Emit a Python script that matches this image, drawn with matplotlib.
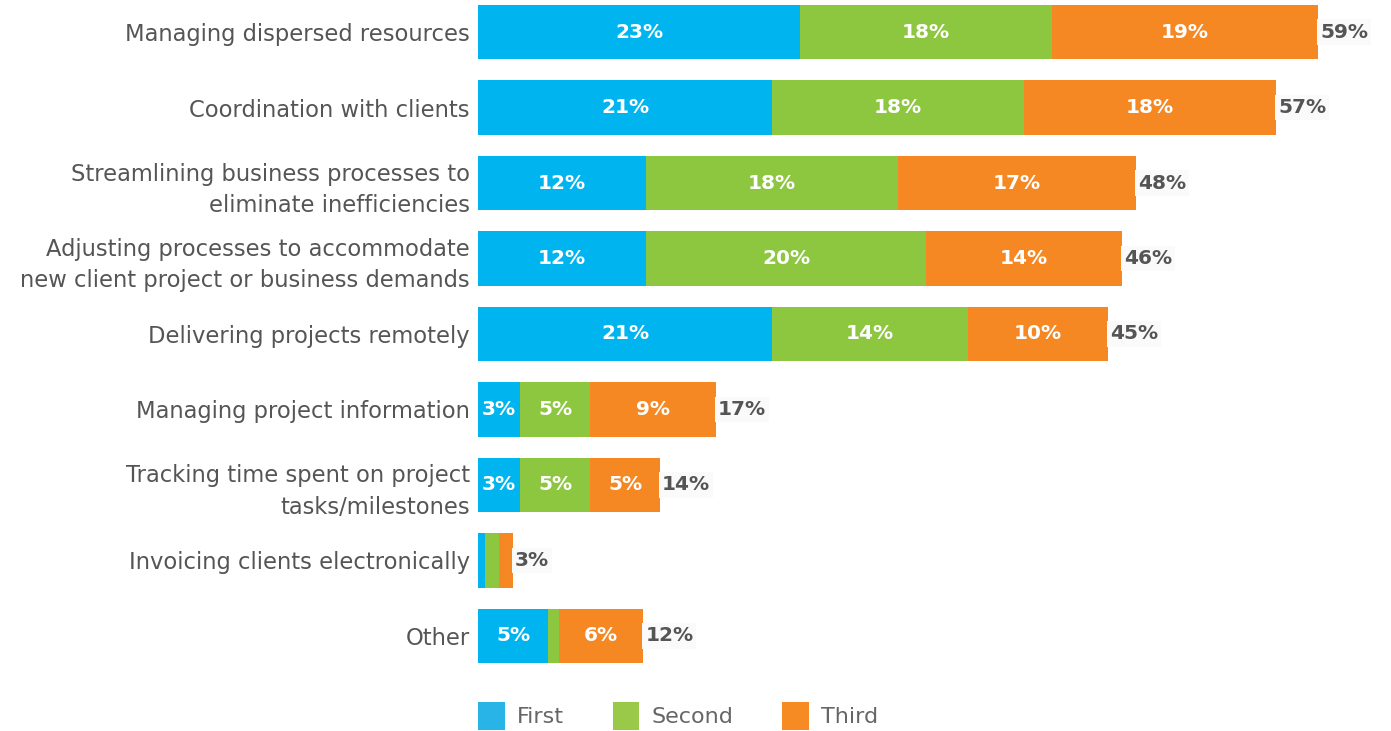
import matplotlib.pyplot as plt
from matplotlib.patches import Patch

# survey answers, ranked first / second / third (percent of respondents)
categories = [
    "Managing dispersed resources",
    "Coordination with clients",
    "Streamlining business processes to\neliminate inefficiencies",
    "Adjusting processes to accommodate\nnew client project or business demands",
    "Delivering projects remotely",
    "Managing project information",
    "Tracking time spent on project\ntasks/milestones",
    "Invoicing clients electronically",
    "Other",
]
first = [23, 21, 12, 12, 21, 3, 3, 0.5, 5]
second = [18, 18, 18, 20, 14, 5, 5, 1, 0.8]
third = [19, 18, 17, 14, 10, 9, 5, 1, 6]
totals = [59, 57, 48, 46, 45, 17, 14, 3, 12]

series_names = ["First", "Second", "Third"]
bar_colors = ["#00b5ef", "#8dc63f", "#f58822"]
legend_colors = ["#29b4e8", "#9ac94a", "#f68b23"]

fig = plt.figure(figsize=(13.91, 7.31), dpi=100)
ax = fig.add_axes([478 / 1391, 51 / 731, 913 / 1391, 680 / 731])

ypos = list(range(len(categories)))
left = [0] * len(categories)
for vals, color in zip([first, second, third], bar_colors):
    ax.barh(ypos, vals, left=left, height=0.72, color=color, linewidth=0)
    for y, v, l in zip(ypos, vals, left):
        if v >= 2:
            ax.text(l + v / 2, y, f"{v:g}%", ha="center", va="center",
                    color="white", fontsize=14.5, fontweight="bold")
    left = [l + v for l, v in zip(left, vals)]

for y, end, tot in zip(ypos, left, totals):
    ax.text(end + 0.15, y, f"{tot}%", ha="left", va="center",
            color="#555555", fontsize=14.5, fontweight="bold",
            bbox=dict(boxstyle="square,pad=0.15", facecolor="#fafafa",
                      edgecolor="none"))

ax.set_xlim(0, 65.2)
ax.set_ylim(8.583, -0.424)
ax.set_yticks(ypos)
ax.set_yticklabels(categories, fontsize=16.3, color="#555555", linespacing=1.45)
ax.tick_params(axis="y", length=0, pad=6)
ax.set_xticks([])
for s in ax.spines.values():
    s.set_visible(False)

handles = [Patch(facecolor=c, edgecolor="none") for c in legend_colors]
fig.legend(handles, series_names, loc="center left",
           bbox_to_anchor=(458 / 1391, 15 / 731), ncol=3, frameon=False,
           fontsize=16, labelcolor="#666666", handlelength=1.2,
           handleheight=1.5, handletextpad=0.55, columnspacing=2.2)

fig.savefig("out.png", dpi=100)
